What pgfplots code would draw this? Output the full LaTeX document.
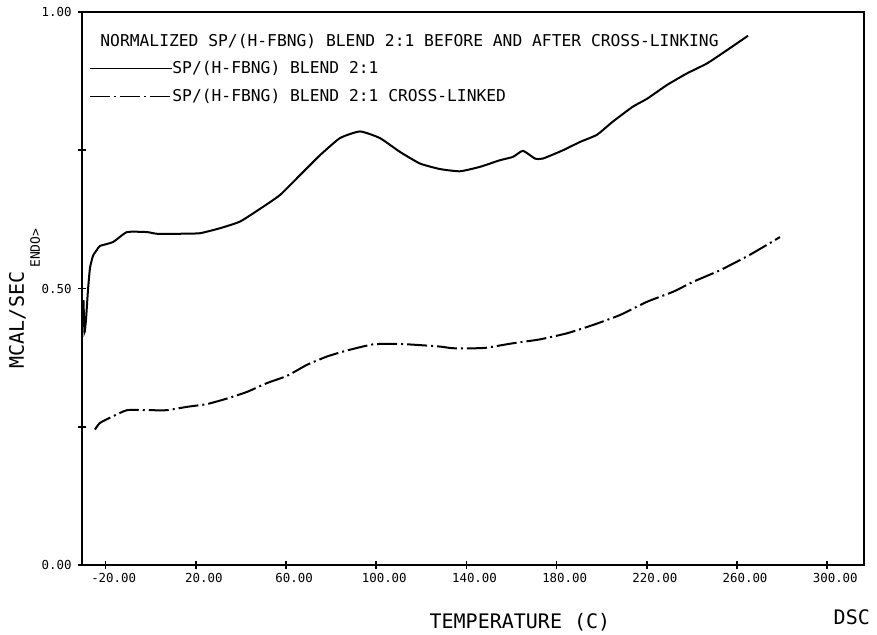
\documentclass[border=0pt]{standalone}
\usepackage{fontspec}
\setmainfont{DejaVu Sans Mono}
\usepackage{pgfplots}
\pgfplotsset{compat=1.18}

\pgfplotstableread{
x y
-29.84 0.479
-29.40 0.421
-28.74 0.443
-27.85 0.497
-26.96 0.537
-25.63 0.559
-23.86 0.570
-22.53 0.577
-16.76 0.584
-10.55 0.602
-1.68 0.602
2.75 0.599
12.95 0.599
21.82 0.600
30.69 0.609
39.56 0.621
48.43 0.644
57.30 0.669
66.17 0.705
75.04 0.741
83.91 0.772
92.78 0.784
101.64 0.772
110.51 0.747
119.38 0.726
128.25 0.716
137.12 0.712
145.99 0.720
154.86 0.732
160.62 0.738
165.06 0.749
170.38 0.735
173.93 0.735
182.80 0.750
190.34 0.765
197.88 0.778
204.97 0.802
213.84 0.829
220.05 0.843
228.92 0.868
237.79 0.889
246.66 0.907
255.53 0.931
264.84 0.957
}\blend

\pgfplotstableread{
x y
-24.75 0.245
-22.53 0.257
-16.76 0.269
-10.55 0.280
-1.68 0.280
7.19 0.280
16.05 0.286
24.92 0.291
33.79 0.301
42.66 0.313
51.53 0.329
60.40 0.342
69.27 0.362
78.14 0.377
87.01 0.388
98.54 0.399
109.18 0.400
118.05 0.398
128.25 0.395
134.02 0.392
145.10 0.392
149.09 0.393
160.62 0.401
172.59 0.408
184.56 0.419
196.09 0.434
208.07 0.452
220.05 0.476
231.58 0.494
240.45 0.512
252.42 0.533
264.39 0.558
273.26 0.579
279.03 0.593
}\crosslinked

\tikzset{dashdot plot/.style={dash pattern=on 10pt off 2pt on 1pt off 2pt}}

\begin{document}
\begin{tikzpicture}
\begin{axis}[
  scale only axis,
  width=391pt, height=276.5pt,
  xmin=-30.5, xmax=316.3, ymin=0, ymax=1,
  axis line style={line width=0.8pt},
  clip=false,
  tick align=center,
  xtick pos=bottom, ytick pos=left,
  major tick length=4pt,
  every tick/.style={black, line width=0.8pt},
  xtick={-20,20,60,100,140,180,220,260,300},
  xticklabels={-20.00,20.00,60.00,100.00,140.00,180.00,220.00,260.00,300.00},
  ytick={0,0.25,0.5,0.75,1},
  yticklabels={0.00,,0.50,,1.00},
  xticklabel style={font=\fontsize{6.2}{7}\selectfont, inner sep=0pt, anchor=north, yshift=-2pt, xshift=4pt},
  yticklabel style={font=\fontsize{6.2}{7}\selectfont, inner sep=0pt, anchor=east, xshift=-3pt},
]
\addplot[black, line width=1pt, smooth, tension=0.3] table {\blend};
\addplot[black, line width=1pt, dashdot plot, smooth, tension=0.3] table {\crosslinked};

% title and key, drawn inside the frame as on the plotter sheet
\node[anchor=west, inner sep=0pt, font=\fontsize{8.15}{9}\selectfont]
  at (rel axis cs:0.023,0.9467) {NORMALIZED SP/(H-FBNG) BLEND 2:1 BEFORE AND AFTER CROSS-LINKING};
\draw[black, line width=0.8pt] (rel axis cs:0.0102,0.898) -- (rel axis cs:0.1151,0.898);
\node[anchor=west, inner sep=0pt, font=\fontsize{8.15}{9}\selectfont]
  at (rel axis cs:0.1151,0.898) {SP/(H-FBNG) BLEND 2:1};
\draw[black, line width=0.8pt, dashdot plot] (rel axis cs:0.0102,0.847) -- (rel axis cs:0.1151,0.847);
\node[anchor=west, inner sep=0pt, font=\fontsize{8.15}{9}\selectfont]
  at (rel axis cs:0.1151,0.847) {SP/(H-FBNG) BLEND 2:1 CROSS-LINKED};

% axis titles
\node[font=\fontsize{10}{11}\selectfont, inner sep=0pt]
  at (rel axis cs:0.560,-0.104) {TEMPERATURE (C)};
\node[font=\fontsize{10}{11}\selectfont, inner sep=0pt, anchor=east]
  at (rel axis cs:1.008,-0.094) {DSC};
\node[font=\fontsize{10}{11}\selectfont, inner sep=0pt, rotate=90]
  at (rel axis cs:-0.0825,0.443) {MCAL/SEC};
\node[font=\fontsize{6.5}{7}\selectfont, inner sep=0pt, rotate=90]
  at (rel axis cs:-0.060,0.573) {ENDO>};
\end{axis}
\pgfresetboundingbox
\path ([shift={(-41pt,-34.5pt)}]current axis.south west) rectangle ([shift={(6.5pt,6pt)}]current axis.north east);
\end{tikzpicture}
\end{document}
